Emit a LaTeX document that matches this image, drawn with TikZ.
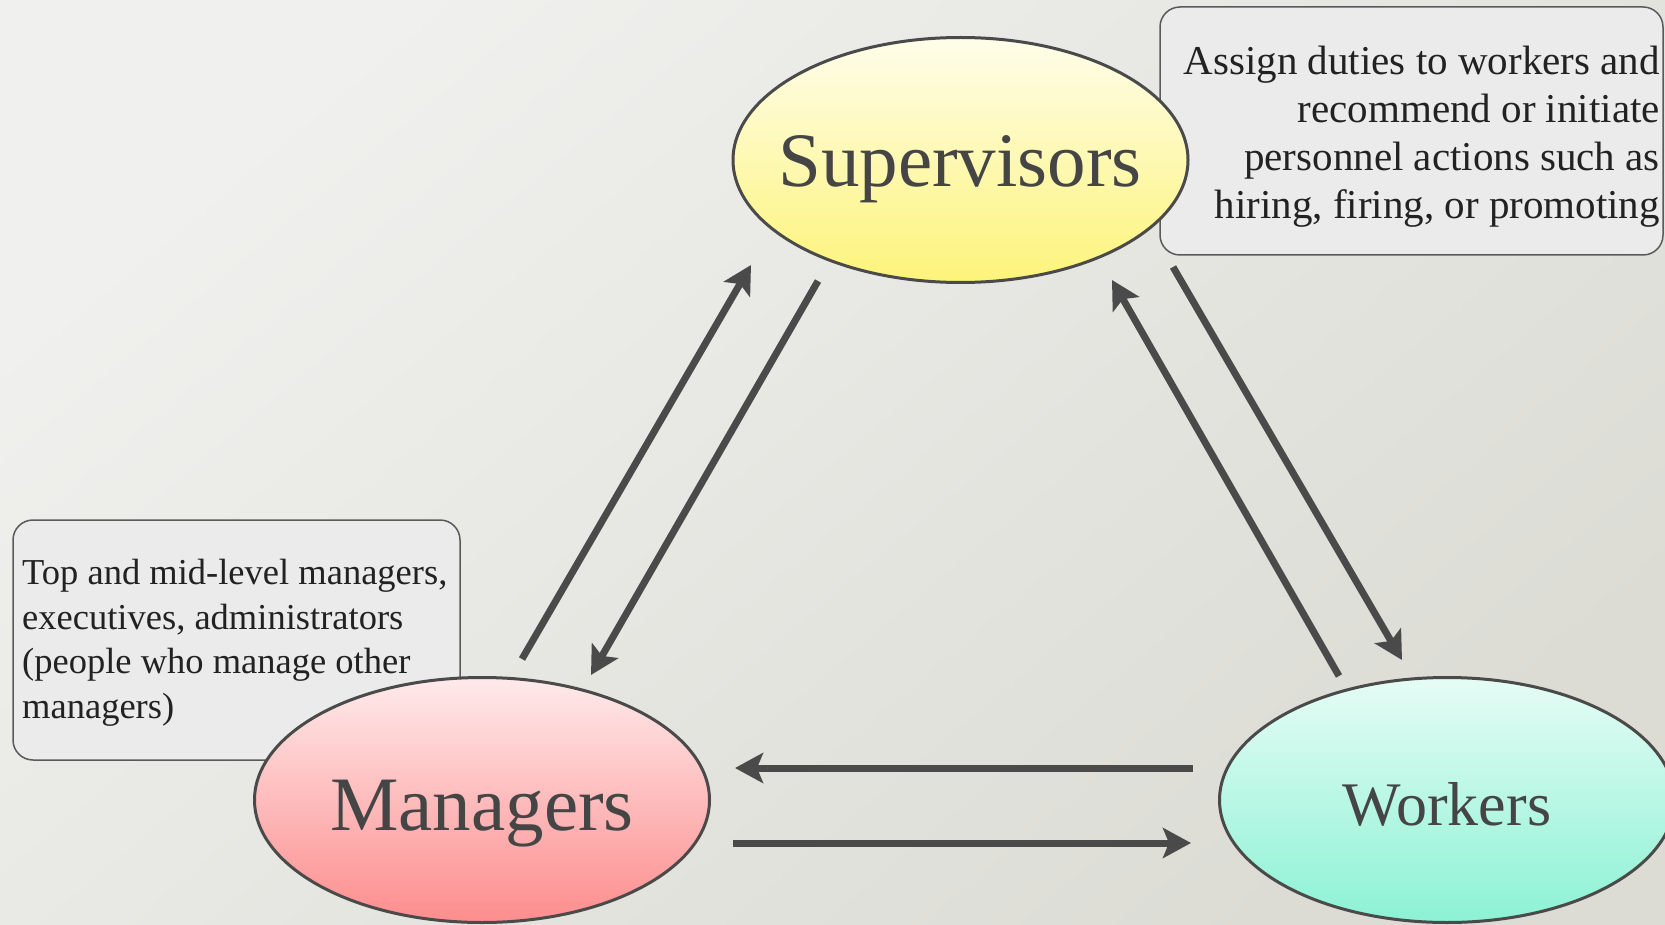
\documentclass[tikz,border=0pt]{standalone}
\usepackage{fontspec}
\setmainfont{Liberation Serif}
\usetikzlibrary{shapes.geometric,arrows.meta}

\definecolor{bgA}{HTML}{F0F0EE}
\definecolor{bgB}{HTML}{DCDCD5}
\definecolor{inkline}{HTML}{4A4A4A}
\definecolor{ovaltext}{HTML}{454545}
\definecolor{boxtext}{HTML}{222222}
\definecolor{boxfill}{HTML}{EBEBEB}
\definecolor{boxline}{HTML}{5A5A5A}
\definecolor{supA}{HTML}{FEFDEA}
\definecolor{supB}{HTML}{FDF47A}
\definecolor{manA}{HTML}{FEEAEB}
\definecolor{manB}{HTML}{FD8D8D}
\definecolor{wrkA}{HTML}{E6FCF5}
\definecolor{wrkB}{HTML}{8CF2D4}

\tikzset{
  oval/.style={ellipse, draw=inkline, line width=3pt, inner sep=0pt,
    minimum width=455pt, minimum height=245pt, shading angle=-25},
  ovallabel/.style={anchor=base, inner sep=0pt, text=ovaltext},
  notebox/.style={draw=boxline, line width=1.5pt, fill=boxfill,
    rounded corners=20pt, inner sep=0pt},
  flow/.style={draw=inkline, line width=7pt,
    -{Stealth[length=28pt,width=30pt,inset=6pt]}}
}

\begin{document}
\begin{tikzpicture}[x=1pt,y=-1pt]
  % page and background
  \useasboundingbox (0,0) rectangle (1665,925);
  \shade[top color=bgA, bottom color=bgB, shading angle=40] (0,0) rectangle (1665,925);

  % note boxes (behind the ovals)
  \node[notebox, minimum width=503pt, minimum height=248pt] (supnote) at (1411.5,131) {};
  \node[anchor=east, align=right, inner sep=0pt, text=boxtext,
        font=\fontsize{41}{48}\selectfont] (suptext) at (1660,137)
    {Assign duties to workers and\\
     recommend or initiate\\
     personnel actions such as\\
     hiring, firing, or promoting};

  \node[notebox, minimum width=447pt, minimum height=240pt] (mannote) at (236.5,640) {};
  \node[anchor=west, align=left, inner sep=0pt, text=boxtext,
        font=\fontsize{36.5}{44.5}\selectfont] (mantext) at (22,643)
    {Top and mid-level managers,\\
     executives, administrators\\
     (people who manage other\\
     managers)};

  % the three ovals
  \node[oval, top color=supA, bottom color=supB] (sup) at (960.5,160) {};
  \node[oval, top color=manA, bottom color=manB] (man) at (482,800) {};
  \node[oval, top color=wrkA, bottom color=wrkB] (wrk) at (1447,800) {};

  % oval captions
  \node[ovallabel, font=\fontsize{77}{86}\selectfont] (suplabel) at (960,187) {Supervisors};
  \node[ovallabel, font=\fontsize{77}{86}\selectfont] (manlabel) at (482,830) {Managers};
  \node[ovallabel, font=\fontsize{62}{70}\selectfont] (wrklabel) at (1447,825) {Workers};

  % arrow end points
  \coordinate (ms0) at (522,659);   \coordinate (ms1) at (751,265);
  \coordinate (sm0) at (818,281);   \coordinate (sm1) at (591,675);
  \coordinate (ws0) at (1339,676);  \coordinate (ws1) at (1112,280);
  \coordinate (sw0) at (1173,267);  \coordinate (sw1) at (1402,660);
  \coordinate (wm0) at (1193,768);  \coordinate (wm1) at (735,768);
  \coordinate (mw0) at (733,843);   \coordinate (mw1) at (1191,843);

  % arrows
  \draw[flow] (ms0) -- (ms1);
  \draw[flow] (sm0) -- (sm1);
  \draw[flow] (ws0) -- (ws1);
  \draw[flow] (sw0) -- (sw1);
  \draw[flow] (wm0) -- (wm1);
  \draw[flow] (mw0) -- (mw1);
\end{tikzpicture}
\end{document}
